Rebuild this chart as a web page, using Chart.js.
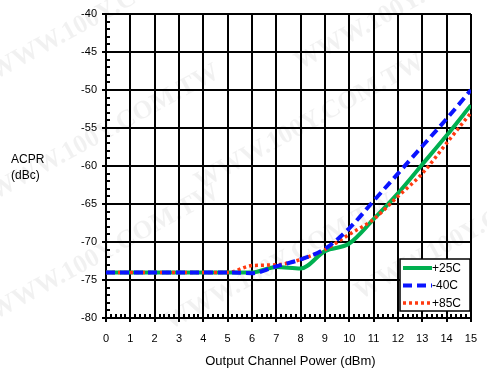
<!DOCTYPE html>
<html>
<head>
<meta charset="utf-8">
<script src="https://cdn.jsdelivr.net/npm/chart.js@4.4.1/dist/chart.umd.min.js"></script>
<style>
  html, body { margin: 0; padding: 0; background: #fff; }
  #wrap { width: 487px; height: 371px; position: relative; }
</style>
</head>
<body>
<div id="wrap"><canvas id="c" width="487" height="371"></canvas></div>
<script>
// Output channel power (dBm)
const powerDbm = [0, 1, 2, 3, 4, 5, 6, 7, 8, 9, 10, 11, 12, 13, 14, 15];
// ACPR (dBc) at each temperature
const acpr25C  = [-74, -74, -74, -74, -74, -74, -74, -73.3, -73.5, -71.2, -70.2, -67.0, -63.6, -59.8, -56.0, -52.0];
const acprM40C = [-74, -74, -74, -74, -74, -74, -74.1, -73.2, -72.3, -70.9, -68.2, -64.6, -61.0, -57.4, -53.8, -50.0];
const acpr85C  = [-74, -74, -74, -74, -74, -74, -73.1, -73.0, -72.3, -71.0, -69.0, -67.0, -64.0, -61.0, -57.0, -53.0];
const seriesLabels = ['+25C', '-40C', '+85C'];
const xTitle = 'Output Channel Power (dBm)';
const yTitleLines = ['ACPR', '(dBc)'];
const watermarkText = 'WWW.100Y.COM.TW';

const FONT = '"Liberation Sans", Arial, sans-serif';
const colors = ['#00b050', '#0a14ff', '#ff3a10'];
const dashes = [[], [9, 5], [3, 3]];
const widths = [4, 4, 3.5];

function pts(ys) { return powerDbm.map((x, i) => ({ x: x, y: ys[i] })); }

// faint diagonal watermark behind the plot
const watermark = {
  id: 'watermark',
  beforeDraw(chart) {
    const ctx = chart.ctx;
    ctx.save();
    ctx.fillStyle = 'rgba(0,0,0,0.055)';
    ctx.font = 'bold 26px "Liberation Serif", "DejaVu Serif", serif';
    const spots = [[-5, 80], [300, 70], [-5, 200], [200, 190], [-5, 320], [170, 330], [360, 300]];
    for (const [x, y] of spots) {
      ctx.save();
      ctx.translate(x, y);
      ctx.rotate(-0.5);
      ctx.fillText(watermarkText, 0, 0);
      ctx.restore();
    }
    ctx.restore();
  }
};

// minor ticks on the inside of the left and bottom axes
const minorTicks = {
  id: 'minorTicks',
  beforeDatasetsDraw(chart) {
    const { ctx, chartArea: a, scales } = chart;
    ctx.save();
    ctx.strokeStyle = '#000';
    ctx.lineWidth = 2;
    ctx.beginPath();
    for (let v = -80; v <= -40; v += 1) {
      if (v % 5 === 0) continue;
      const y = Math.round(scales.y.getPixelForValue(v));
      ctx.moveTo(a.left, y);
      ctx.lineTo(a.left + 4, y);
    }
    for (let k = 0; k <= 75; k++) {
      if (k % 5 === 0) continue;
      const x = Math.round(scales.x.getPixelForValue(k / 5));
      ctx.moveTo(x, a.bottom);
      ctx.lineTo(x, a.bottom - 4);
    }
    ctx.stroke();
    ctx.restore();
  }
};

// axis titles and the boxed legend inside the plot
const annotations = {
  id: 'annotations',
  afterDraw(chart) {
    const { ctx, chartArea: a } = chart;
    ctx.save();
    ctx.fillStyle = '#000';
    ctx.font = '13px ' + FONT;
    ctx.textBaseline = 'middle';
    ctx.textAlign = 'center';
    ctx.fillText(xTitle, (a.left + a.right) / 2 + 2, 361);
    ctx.textAlign = 'left';
    ctx.font = '12px ' + FONT;
    ctx.fillText(yTitleLines[0], 11, 160);
    ctx.fillText(yTitleLines[1], 11, 176);

    // legend box
    const bx = 400, by = 259, bw = 70, bh = 52;
    ctx.fillStyle = '#fff';
    ctx.fillRect(bx, by, bw, bh);
    ctx.strokeStyle = '#000';
    ctx.lineWidth = 1.5;
    ctx.strokeRect(bx, by, bw, bh);
    ctx.font = '12px ' + FONT;
    for (let i = 0; i < 3; i++) {
      const y = by + 9 + i * 17.5;
      ctx.save();
      ctx.strokeStyle = colors[i];
      ctx.lineWidth = widths[i];
      ctx.setLineDash(dashes[i]);
      ctx.beginPath();
      ctx.moveTo(bx + 3, y);
      ctx.lineTo(bx + 32, y);
      ctx.stroke();
      ctx.restore();
      ctx.fillStyle = '#000';
      ctx.fillText(seriesLabels[i], bx + 32, y + 0.5);
    }
    ctx.restore();
  }
};

const ds = [acpr25C, acprM40C, acpr85C].map((ys, i) => ({
  label: seriesLabels[i],
  data: pts(ys),
  borderColor: colors[i],
  borderWidth: widths[i],
  borderDash: dashes[i],
  pointRadius: 0,
  fill: false,
  cubicInterpolationMode: 'monotone'
}));
// draw order: green first, then red, blue on top
ds[0].order = 3; ds[2].order = 2; ds[1].order = 1;

new Chart(document.getElementById('c'), {
  type: 'line',
  data: { datasets: ds },
  options: {
    responsive: false,
    animation: false,
    devicePixelRatio: 1,
    layout: { padding: { left: 0, top: 14, right: 14, bottom: 0 } },
    plugins: { legend: { display: false }, tooltip: { enabled: false } },
    scales: {
      x: {
        type: 'linear', min: 0, max: 15,
        ticks: { stepSize: 1, color: '#000', font: { family: FONT, size: 11 }, padding: 10, maxRotation: 0 },
        grid: { color: '#000', lineWidth: 2, tickLength: 4 },
        border: { display: true, color: '#000', width: 2 },
        afterFit(s) { s.height = 53; }
      },
      y: {
        min: -80, max: -40,
        ticks: { stepSize: 5, color: '#000', font: { family: FONT, size: 11 }, padding: 5 },
        grid: { color: '#000', lineWidth: 2, tickLength: 4 },
        border: { display: true, color: '#000', width: 2 },
        afterFit(s) { s.width = 106; }
      }
    }
  },
  plugins: [watermark, minorTicks, annotations]
});
</script>
</body>
</html>
